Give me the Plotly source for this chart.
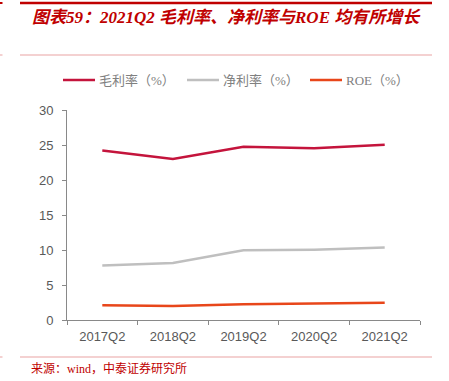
import plotly.graph_objects as go

categories = ["2017Q2", "2018Q2", "2019Q2", "2020Q2", "2021Q2"]
gross_margin = [24.2, 23.0, 24.75, 24.55, 25.05]
net_margin = [7.8, 8.15, 9.95, 10.05, 10.35]
roe = [2.1, 2.0, 2.25, 2.35, 2.45]
series_names = ["毛利率（%）", "净利率（%）", "ROE（%）"]
title_text = "图表59：2021Q2 毛利率、净利率与ROE 均有所增长"
source_text = "来源：wind，中泰证券研究所"

W, H = 449, 381
L, R, T, B = 67, 420, 110, 320


def px_x(p):
    return (p - L) / (R - L)


def px_y(p):
    return (B - p) / (B - T)


colors = ["#C4143C", "#BFBFBF", "#E8461A"]
fig = go.Figure()
for name, vals, c in zip(series_names, [gross_margin, net_margin, roe], colors):
    fig.add_trace(go.Scatter(x=categories, y=vals, name=name, mode="lines",
                             line=dict(color=c, width=2.5), showlegend=False))

shapes = []
red = "#C00000"
light = "#E9A3A3"
shapes.append(dict(type="line", xref="paper", yref="paper", x0=px_x(20), x1=px_x(432),
                   y0=px_y(3), y1=px_y(3), line=dict(color=red, width=2.5)))
shapes.append(dict(type="line", xref="paper", yref="paper", x0=px_x(20), x1=px_x(432),
                   y0=px_y(55), y1=px_y(55), line=dict(color=light, width=1)))
shapes.append(dict(type="line", xref="paper", yref="paper", x0=px_x(20), x1=px_x(432),
                   y0=px_y(357), y1=px_y(357), line=dict(color=light, width=1)))
for yy, col in [(3, red), (55, light), (357, light)]:
    shapes.append(dict(type="line", xref="paper", yref="paper", x0=px_x(0), x1=px_x(2.5),
                       y0=px_y(yy), y1=px_y(yy), line=dict(color=col, width=2 if col == red else 1)))

annotations = [
    dict(text=f"<b><i>{title_text}</i></b>", xref="paper", yref="paper",
         x=px_x(30), y=px_y(17), xanchor="left", yanchor="middle", showarrow=False,
         font=dict(family="Liberation Serif, Noto Sans CJK SC", size=17, color="#C00000")),
    dict(text=source_text, xref="paper", yref="paper",
         x=px_x(29), y=px_y(368), xanchor="left", yanchor="middle", showarrow=False,
         font=dict(family="Liberation Serif, Noto Sans CJK SC", size=12, color="#C00000")),
]

# manual legend built from the series names and colours
legend_starts = [63, 187, 310]
for name, c, x0 in zip(series_names, colors, legend_starts):
    shapes.append(dict(type="line", xref="paper", yref="paper", x0=px_x(x0), x1=px_x(x0 + 32),
                       y0=px_y(80), y1=px_y(80), line=dict(color=c, width=2.5)))
    annotations.append(dict(text=name, xref="paper", yref="paper", x=px_x(x0 + 34), y=px_y(80),
                            xanchor="left", yanchor="middle", showarrow=False,
                            font=dict(family="Liberation Serif, Noto Sans CJK SC", size=13,
                                      color="#808080")))

axis_color = "#898989"
fig.update_layout(
    width=W, height=H,
    margin=dict(l=L, r=W - R, t=T, b=H - B, pad=0, autoexpand=False),
    paper_bgcolor="white", plot_bgcolor="white",
    showlegend=False,
    hovermode=False,
    xaxis=dict(type="category", range=[-0.5, 4.5], showgrid=False, zeroline=False,
               showline=True, linecolor=axis_color, linewidth=1,
               ticks="outside", ticklen=4, tickcolor=axis_color, tickson="boundaries",
               ticklabelstandoff=4,
               tickfont=dict(family="Liberation Sans, Arial", size=13, color="#595959")),
    yaxis=dict(range=[0, 30], dtick=5, showgrid=False, zeroline=False,
               showline=True, linecolor=axis_color, linewidth=1,
               ticks="outside", ticklen=4, tickcolor=axis_color,
               ticklabelstandoff=6,
               tickfont=dict(family="Liberation Sans, Arial", size=13, color="#595959")),
    shapes=shapes, annotations=annotations,
)

fig.write_html("out.html", config={"displayModeBar": False},
               post_script="document.body.style.margin='0px';")
